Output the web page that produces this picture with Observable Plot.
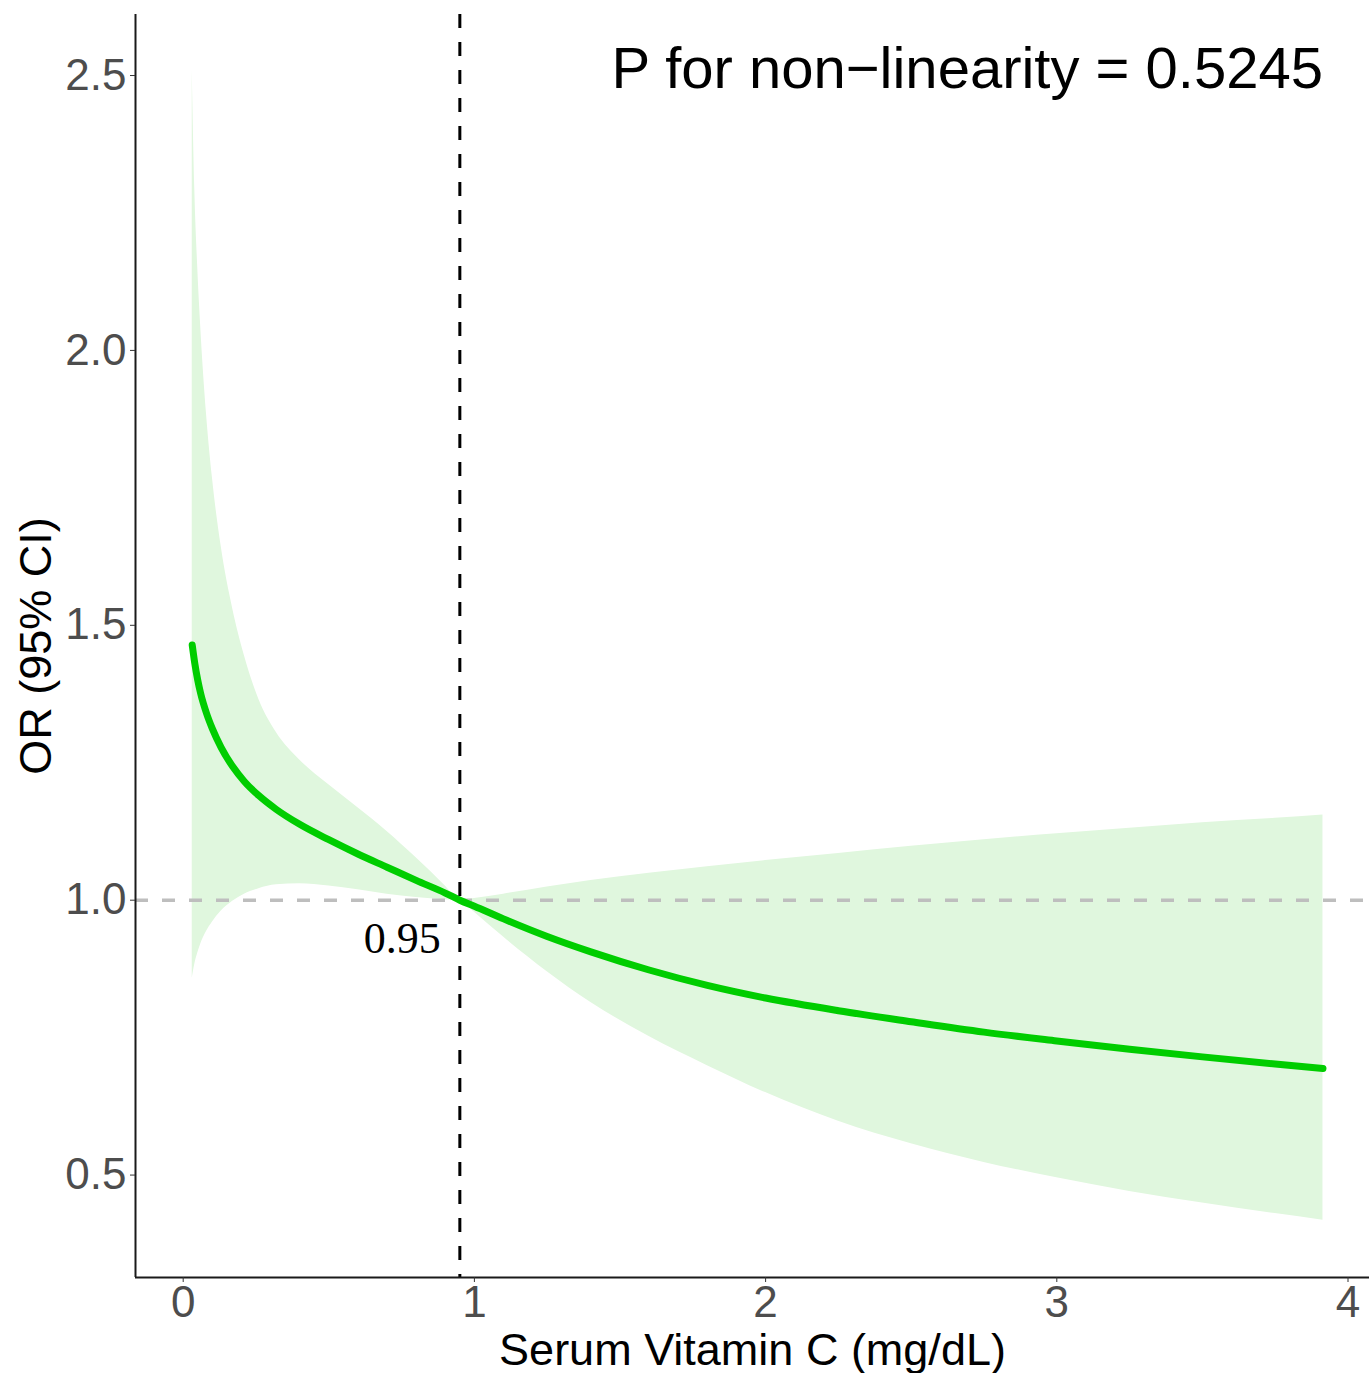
<!DOCTYPE html>
<html>
<head>
<meta charset="utf-8">
<script src="https://cdn.jsdelivr.net/npm/d3@7"></script>
<script src="https://cdn.jsdelivr.net/npm/@observablehq/plot@0.6"></script>
<style>
  html, body { margin: 0; padding: 0; background: #ffffff; }
</style>
</head>
<body>
<div id="chart"></div>
<script>
// ---- data ----
const vitC    = [0.031, 0.04, 0.05, 0.06, 0.08, 0.10, 0.13, 0.17, 0.21, 0.26, 0.32, 0.40, 0.50, 0.60, 0.70, 0.80, 0.90, 0.95, 1.0, 1.1, 1.25, 1.4, 1.6, 1.8, 2.0, 2.25, 2.5, 2.75, 3.0, 3.25, 3.5, 3.75, 3.914];
const orMean  = [1.464, 1.430, 1.400, 1.376, 1.340, 1.312, 1.278, 1.243, 1.216, 1.190, 1.165, 1.138, 1.110, 1.084, 1.060, 1.036, 1.013, 1.000, 0.989, 0.966, 0.934, 0.906, 0.873, 0.845, 0.822, 0.799, 0.779, 0.760, 0.744, 0.729, 0.715, 0.702, 0.694];
const orLower = [0.858, 0.884, 0.904, 0.920, 0.943, 0.960, 0.980, 0.998, 1.011, 1.021, 1.028, 1.030, 1.026, 1.019, 1.011, 1.005, 1.001, 1.000, 0.978, 0.933, 0.870, 0.814, 0.752, 0.699, 0.650, 0.598, 0.557, 0.523, 0.495, 0.470, 0.449, 0.430, 0.418];
const orUpper = [2.510, 2.290, 2.150, 2.045, 1.885, 1.770, 1.645, 1.530, 1.445, 1.365, 1.305, 1.255, 1.210, 1.168, 1.125, 1.077, 1.026, 1.000, 1.003, 1.011, 1.024, 1.036, 1.049, 1.061, 1.072, 1.085, 1.098, 1.110, 1.121, 1.131, 1.141, 1.149, 1.155];

const refX = 0.95;
const refY = 1;
const refLabel = "0.95";
const xTicks = [0, 1, 2, 3, 4];
const yTicks = [0.5, 1.0, 1.5, 2.0, 2.5];
const xDomain = [-0.1638, 4.0738];
const yDomain = [0.3137, 2.611];
const pText = "P for non\u2212linearity = 0.5245";
const xTitle = "Serum Vitamin C (mg/dL)";
const yTitle = "OR (95% CI)";

const rows = vitC.map((x, i) => ({x, mean: orMean[i], lo: orLower[i], hi: orUpper[i]}));

const sans = "'Liberation Sans', Arial, Helvetica, sans-serif";
const serif = "'Liberation Serif', 'Times New Roman', serif";

const chart = Plot.plot({
  width: 1369,
  height: 1373,
  marginLeft: 135,
  marginRight: 0,
  marginTop: 14,
  marginBottom: 96,
  style: {fontFamily: sans, background: "#ffffff"},
  x: {domain: xDomain},
  y: {domain: yDomain},
  marks: [
    Plot.areaY(rows, {x: "x", y1: "lo", y2: "hi", fill: "#E0F7DE", curve: "monotone-x"}),
    Plot.ruleY([refY], {stroke: "#BEBEBE", strokeWidth: 3.5, strokeDasharray: "13,14"}),
    Plot.line(rows, {x: "x", y: "mean", stroke: "#00CD00", strokeWidth: 7, curve: "monotone-x"}),
    Plot.ruleX([refX], {stroke: "#000000", strokeWidth: 3, strokeDasharray: "14,14"}),
    Plot.text([{x: refX, y: refY, t: refLabel}], {
      x: "x", y: "y", text: "t", textAnchor: "end", lineAnchor: "top",
      dx: -19, dy: 22, fontSize: 44, fontFamily: serif, fill: "#000000"
    }),
    Plot.text([{x: d3.max(vitC), t: pText}], {
      x: "x", text: "t", frameAnchor: "top", textAnchor: "end", lineAnchor: "top",
      dy: 32, fontSize: 58, fill: "#000000"
    }),
    // axis lines
    Plot.ruleY([yDomain[0]], {stroke: "#1a1a1a", strokeWidth: 2}),
    Plot.ruleX([xDomain[0]], {stroke: "#1a1a1a", strokeWidth: 2}),
    Plot.axisX({ticks: xTicks, tickFormat: d3.format("d"), tickSize: 5, tickPadding: 3, fontSize: 44, color: "#4D4D4D", stroke: "#333333", fill: "#4D4D4D", label: null}),
    Plot.axisY({ticks: yTicks, tickFormat: d3.format(".1f"), tickSize: 5, tickPadding: 4, fontSize: 44, color: "#4D4D4D", stroke: "#333333", fill: "#4D4D4D", label: null}),
    // axis titles
    Plot.text([xTitle], {frameAnchor: "bottom", dy: 73, lineAnchor: "middle", textAnchor: "middle", fontSize: 45, fill: "#000000"}),
    Plot.text([yTitle], {frameAnchor: "left", dx: -99, rotate: -90, lineAnchor: "middle", textAnchor: "middle", fontSize: 45, fill: "#000000"})
  ]
});

document.getElementById("chart").appendChild(chart);
</script>
</body>
</html>
